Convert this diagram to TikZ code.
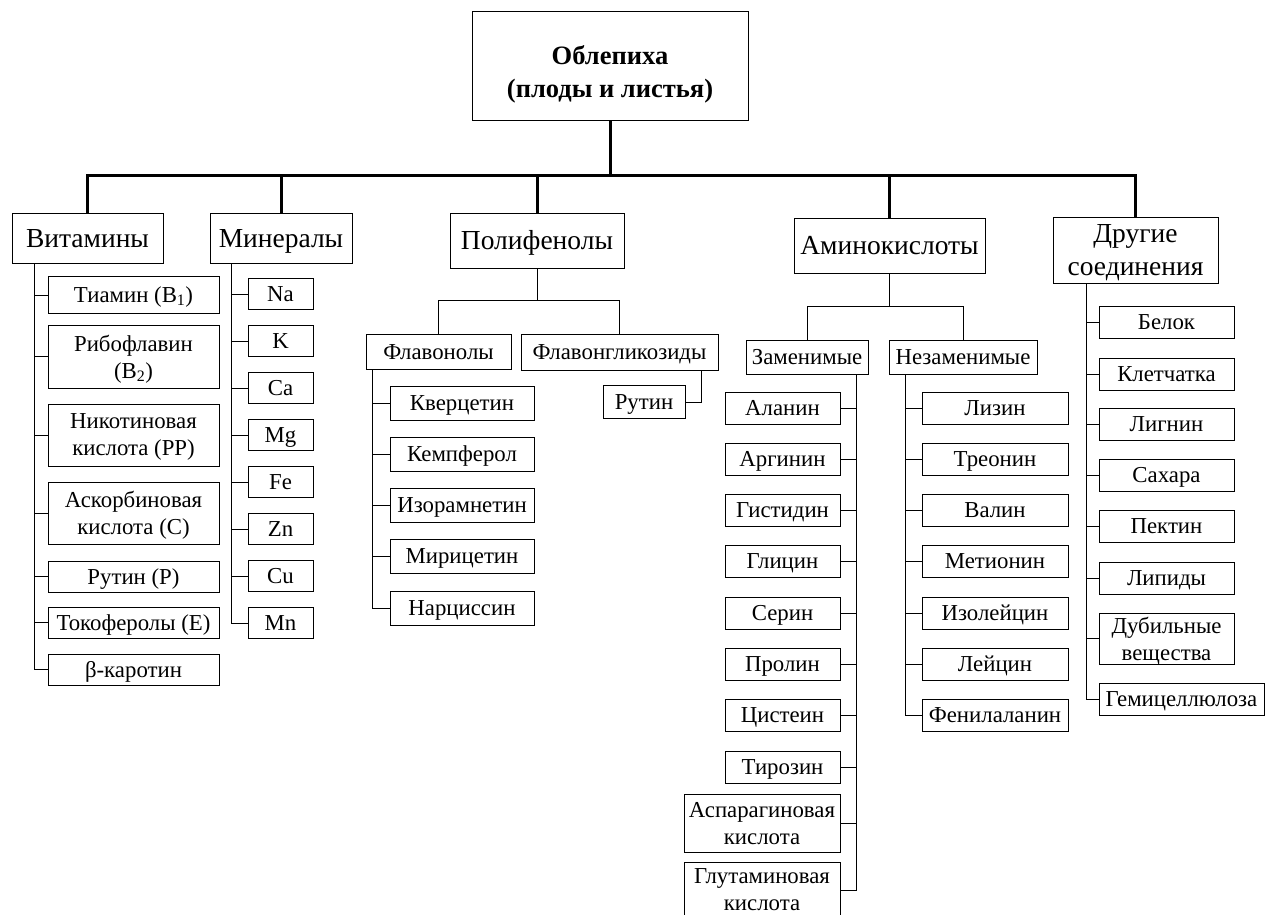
\documentclass[tikz,border=0pt]{standalone}
\usepackage{fontspec}
\setmainfont{Liberation Serif}
\usetikzlibrary{positioning}
\tikzstyle{item}=[draw,line width=1pt,inner sep=0pt,align=center,text height=15pt,text depth=0pt,font=\fontsize{22.8}{27}\selectfont]
\tikzstyle{group}=[item,text height=18pt,font=\fontsize{27.5}{33}\selectfont]
\tikzstyle{two}=[text height=,text depth=-5pt]
\tikzstyle{link}=[line width=1pt]
\tikzstyle{bus}=[line width=3pt]
\begin{document}
\begin{tikzpicture}[x=1pt,y=-1pt]
\tikzstyle{vit}=[item,minimum width=171pt,minimum height=31pt]
\tikzstyle{mineral}=[item,minimum width=65pt,minimum height=31pt]
\tikzstyle{flavonol}=[item,minimum width=144pt,minimum height=34pt]
\tikzstyle{zam}=[item,minimum width=115pt,minimum height=32pt]
\tikzstyle{nezam}=[item,minimum width=146pt,minimum height=32pt]
\tikzstyle{other}=[item,minimum width=135pt,minimum height=32pt]
\useasboundingbox (0,0) rectangle (1266,915);
\clip (0,0) rectangle (1266,915);

\node [item,two,text depth=-11pt,minimum width=276pt,minimum height=109pt,font=\bfseries\fontsize{26.5}{33}\selectfont] (root) at (610,66.5) {\rule{0pt}{30pt}Облепиха\\(плоды и листья)};
\coordinate (bus) at (610,175);

\node [group,minimum width=151pt,minimum height=50pt] (vitamins) at (87.5,238) {Витамины};
\node [group,minimum width=142pt,minimum height=50pt] (minerals) at (281,238) {Минералы};
\node [group,minimum width=174pt,minimum height=55pt] (polyphenols) at (537,240.5) {Полифенолы};
\node [group,minimum width=191pt,minimum height=55pt] (amino) at (889.5,245.5) {Аминокислоты};
\node [group,two,text depth=-3pt,minimum width=165pt,minimum height=66pt] (others) at (1135.5,250) {Другие\\соединения};

\draw [bus] (root.south) -- (bus);
\foreach \g in {vitamins,minerals,polyphenols,amino,others}
  \draw [bus] (\g.north) |- (bus);

\node [vit,minimum height=37pt] (v1) at (133.5,295) {Тиамин (B\textsubscript{1})};
\node [vit,two,minimum height=63pt] (v2) at (133.5,356.5) {Рибофлавин\\(B\textsubscript{2})};
\node [vit,two,minimum height=62pt] (v3) at (133.5,435) {Никотиновая\\кислота (PP)};
\node [vit,two,minimum height=62pt] (v4) at (133.5,513) {Аскорбиновая\\кислота (C)};
\node [vit] (v5) at (133.5,576.5) {Рутин (P)};
\node [vit] (v6) at (133.5,622.5) {Токоферолы (E)};
\node [vit] (v7) at (133.5,669.5) {β-каротин};
\foreach \c in {v1,v2,v3,v4,v5,v6,v7}
  \draw [link] ([xshift=23pt]vitamins.south west) |- (\c.west);

\node [mineral] (m1) at (280.5,294) {Na};
\node [mineral] (m2) at (280.5,341) {K};
\node [mineral] (m3) at (280.5,388) {Ca};
\node [mineral] (m4) at (280.5,435) {Mg};
\node [mineral] (m5) at (280.5,482) {Fe};
\node [mineral] (m6) at (280.5,529) {Zn};
\node [mineral] (m7) at (280.5,576) {Cu};
\node [mineral] (m8) at (280.5,623) {Mn};
\foreach \c in {m1,m2,m3,m4,m5,m6,m7,m8}
  \draw [link] ([xshift=22pt]minerals.south west) |- (\c.west);

\node [item,minimum width=145pt,minimum height=35pt] (flavonols) at (438.5,351.5) {Флавонолы};
\node [item,minimum width=197pt,minimum height=36pt] (glycosides) at (619.5,352) {Флавонгликозиды};
\draw [link] (polyphenols.south) -- ++(0,32) coordinate (psplit);
\draw [link] (flavonols.north) |- (psplit);
\draw [link] (glycosides.north) |- (psplit);

\node [flavonol] (f1) at (462,403) {Кверцетин};
\node [flavonol] (f2) at (462,454) {Кемпферол};
\node [flavonol] (f3) at (462,505) {Изорамнетин};
\node [flavonol] (f4) at (462,556) {Мирицетин};
\node [flavonol] (f5) at (462,608) {Нарциссин};
\foreach \c in {f1,f2,f3,f4,f5}
  \draw [link] ([xshift=7pt]flavonols.south west) |- (\c.west);

\node [item,minimum width=82pt,minimum height=33pt] (rutin) at (644,402) {Рутин};
\draw [link] ([xshift=-17pt]glycosides.south east) |- (rutin.east);

\node [item,minimum width=122pt,minimum height=34pt] (repl) at (807,357) {Заменимые};
\node [item,minimum width=148pt,minimum height=34pt] (essential) at (963,357) {Незаменимые};
\draw [link] (amino.south) -- ++(0,33) coordinate (asplit);
\draw [link] (repl.north) |- (asplit);
\draw [link] (essential.north) |- (asplit);

\node [zam] (z1) at (782.5,408) {Аланин};
\node [zam] (z2) at (782.5,459) {Аргинин};
\node [zam] (z3) at (782.5,510) {Гистидин};
\node [zam] (z4) at (782.5,561) {Глицин};
\node [zam] (z5) at (782.5,613) {Серин};
\node [zam] (z6) at (782.5,664) {Пролин};
\node [zam] (z7) at (782.5,715) {Цистеин};
\node [zam] (z8) at (782.5,767) {Тирозин};
\node [zam,two,minimum width=156pt,minimum height=58pt] (z9) at (762,823) {Аспарагиновая\\кислота};
\node [zam,two,minimum width=156pt,minimum height=56pt] (z10) at (762,890) {Глутаминовая\\кислота};
\foreach \c in {z1,z2,z3,z4,z5,z6,z7,z8,z9,z10}
  \draw [link] ([xshift=-12pt]repl.south east) |- (\c.east);

\node [nezam] (n1) at (995,408) {Лизин};
\node [nezam] (n2) at (995,459) {Треонин};
\node [nezam] (n3) at (995,510) {Валин};
\node [nezam] (n4) at (995,561) {Метионин};
\node [nezam] (n5) at (995,613) {Изолейцин};
\node [nezam] (n6) at (995,664) {Лейцин};
\node [nezam] (n7) at (995,715) {Фенилаланин};
\foreach \c in {n1,n2,n3,n4,n5,n6,n7}
  \draw [link] ([xshift=17pt]essential.south west) |- (\c.west);

\node [other] (o1) at (1166.5,322) {Белок};
\node [other] (o2) at (1166.5,374) {Клетчатка};
\node [other] (o3) at (1166.5,424) {Лигнин};
\node [other] (o4) at (1166.5,475) {Сахара};
\node [other] (o5) at (1166.5,526) {Пектин};
\node [other] (o6) at (1166.5,578) {Липиды};
\node [other,two,minimum height=51pt] (o7) at (1166.5,638.5) {Дубильные\\вещества};
\node [other,minimum width=165pt] (o8) at (1181.5,699) {Гемицеллюлоза};
\foreach \c in {o1,o2,o3,o4,o5,o6,o7,o8}
  \draw [link] ([xshift=34pt]others.south west) |- (\c.west);
\end{tikzpicture}
\end{document}
